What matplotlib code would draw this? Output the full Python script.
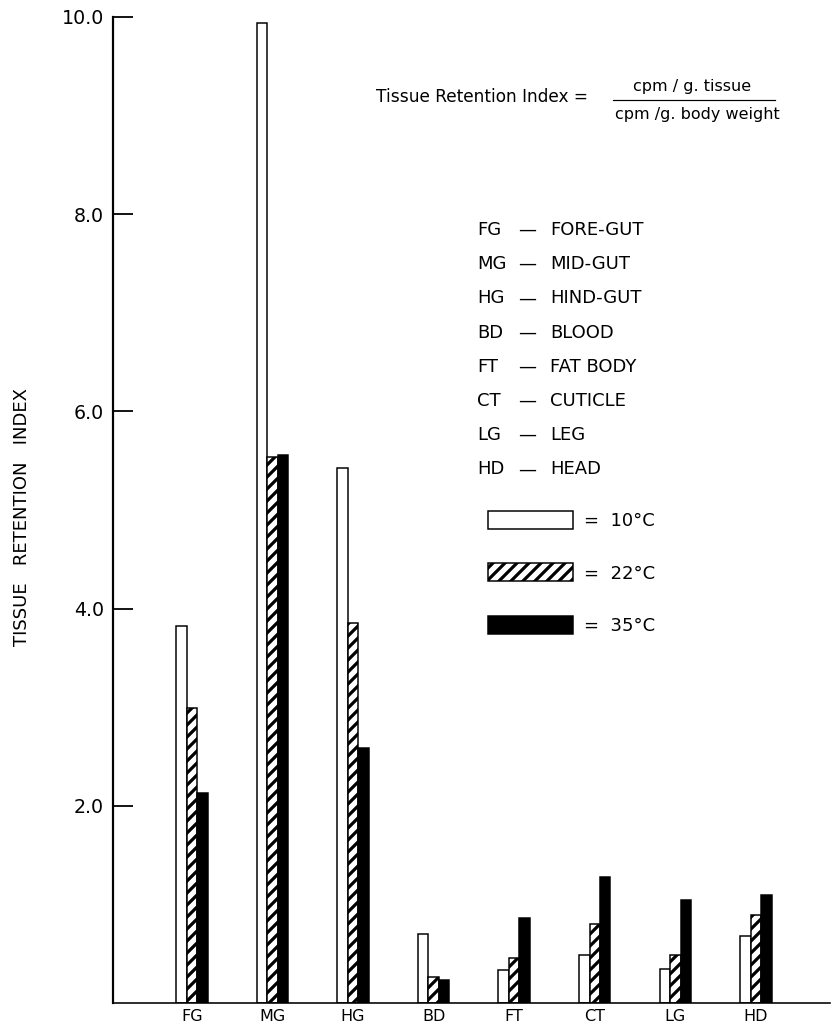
import numpy as np
import matplotlib
matplotlib.use('Agg')
import matplotlib.pyplot as plt
from matplotlib.lines import Line2D

# ---------------- data ----------------
categories = ['FG', 'MG', 'HG', 'BD', 'FT', 'CT', 'LG', 'HD']
full_names = ['FORE-GUT', 'MID-GUT', 'HIND-GUT', 'BLOOD', 'FAT BODY',
              'CUTICLE', 'LEG', 'HEAD']
t10 = [3.82, 9.94, 5.43, 0.70, 0.33, 0.49, 0.34, 0.68]
t22 = [2.99, 5.54, 3.85, 0.26, 0.46, 0.80, 0.49, 0.89]
t35 = [2.13, 5.56, 2.59, 0.23, 0.86, 1.28, 1.04, 1.10]
temp_labels = ['10°C', '22°C', '35°C']
yticks = [2, 4, 6, 8, 10]
ytick_labels = ['2.0', '4.0', '6.0', '8.0', '10.0']

# ---------------- figure ----------------
W, H, DPI = 833, 1030, 72
plt.rcParams['font.family'] = ['DejaVu Sans']
plt.rcParams['hatch.linewidth'] = 3.2
plt.rcParams['hatch.color'] = 'black'

fig = plt.figure(figsize=(W / DPI, H / DPI), dpi=DPI)
fig.patch.set_facecolor('white')


def fx(px):
    return px / W


def fy(py):
    return 1 - py / H


ax = fig.add_axes([fx(113), fy(1003), fx(830) - fx(113), fy(17) - fy(1003)])

x = np.arange(len(categories))
w = 0.13
b1 = ax.bar(x - w, t10, w, facecolor='white', edgecolor='black', linewidth=1.5)
b2 = ax.bar(x, t22, w, facecolor='white', edgecolor='black', hatch='//',
            linewidth=1.5)
b3 = ax.bar(x + w, t35, w, facecolor='black', edgecolor='black', linewidth=1.5)

ax.set_xlim(-0.98, 7.92)
ax.set_ylim(0, 10)

for s in ['top', 'right']:
    ax.spines[s].set_visible(False)
ax.spines['left'].set_linewidth(2.2)
ax.spines['bottom'].set_linewidth(1.6)

ax.set_yticks(yticks)
ax.set_yticklabels(ytick_labels, fontsize=19)
ax.tick_params(axis='y', direction='in', length=20, width=1.8, pad=9)
ax.set_xticks(x)
ax.set_xticklabels(categories, fontsize=16)
ax.tick_params(axis='x', length=0, pad=6)

# y label
fig.text(fx(22), fy(517), 'TISSUE   RETENTION   INDEX', rotation=90,
         fontsize=18, ha='center', va='center')

# formula
fig.text(fx(588), fy(97), 'Tissue Retention Index =', fontsize=17,
         ha='right', va='center')
fig.text(fx(692), fy(87), 'cpm / g. tissue', fontsize=16,
         ha='center', va='center')
fig.add_artist(Line2D([fx(613), fx(775)], [fy(99.5), fy(99.5)],
                      color='black', lw=1.2))
fig.text(fx(697), fy(114), 'cpm /g. body weight', fontsize=16,
         ha='center', va='center')

# abbreviation key
for i, (c, n) in enumerate(zip(categories, full_names)):
    yy = fy(230 + 34.2 * i)
    fig.text(fx(477), yy, c, fontsize=18, ha='left', va='center')
    fig.text(fx(518), yy, '—', fontsize=18, ha='left', va='center')
    fig.text(fx(550), yy, n, fontsize=18, ha='left', va='center')

# temperature key
ax.legend([b1, b2, b3], ['=  ' + t for t in temp_labels],
          loc='upper left', bbox_to_anchor=(fx(488), fy(511)),
          bbox_transform=fig.transFigure, frameon=False, fontsize=18,
          handlelength=85 / 18, handleheight=21 / 18, handletextpad=0.6,
          labelspacing=1.85, borderpad=0, borderaxespad=0)

fig.savefig('out.png', dpi=DPI, facecolor='white')
